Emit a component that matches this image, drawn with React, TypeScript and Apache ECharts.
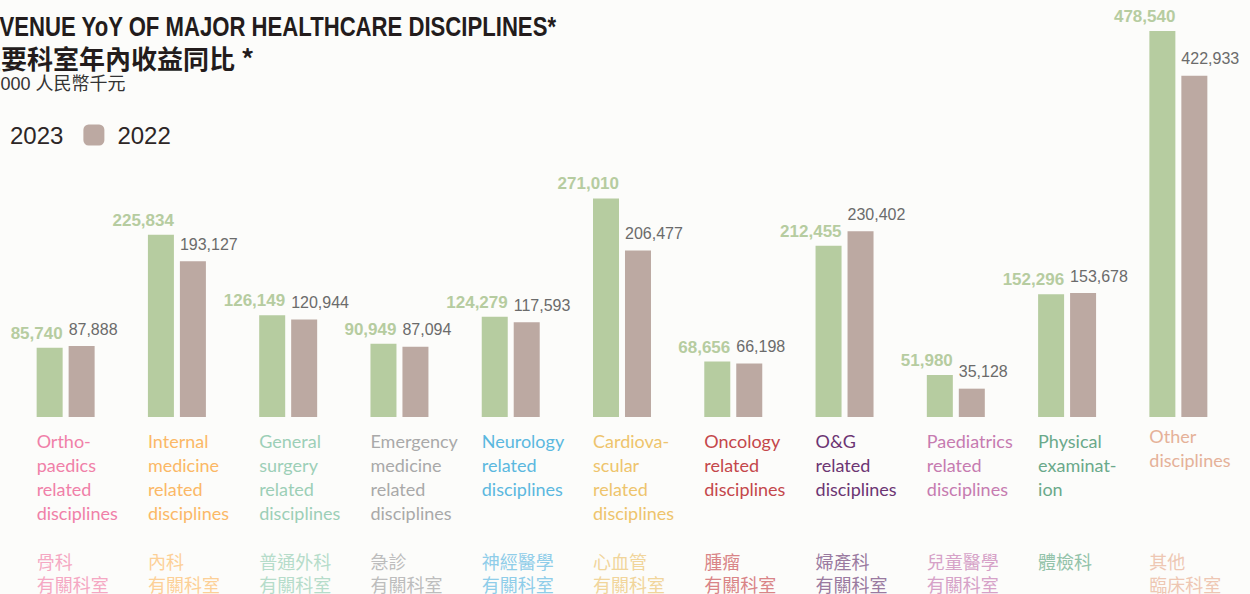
import React, { useEffect, useRef } from 'react';
import * as echarts from 'echarts';

const categories = ['Ortho', 'Internal', 'General', 'Emergency', 'Neurology', 'Cardio', 'Oncology', 'OG', 'Paediatrics', 'Physical', 'Other'];
const englishLabels = [
  'Ortho-\npaedics\nrelated\ndisciplines',
  'Internal\nmedicine\nrelated\ndisciplines',
  'General\nsurgery\nrelated\ndisciplines',
  'Emergency\nmedicine\nrelated\ndisciplines',
  'Neurology\nrelated\ndisciplines',
  'Cardiova-\nscular\nrelated\ndisciplines',
  'Oncology\nrelated\ndisciplines',
  'O&G\nrelated\ndisciplines',
  'Paediatrics\nrelated\ndisciplines',
  'Physical\nexaminat-\nion',
  'Other\ndisciplines',
];
const chineseLabels = [
  '骨科\n有關科室', '內科\n有關科室', '普通外科\n有關科室', '急診\n有關科室', '神經醫學\n有關科室',
  '心血管\n有關科室', '腫瘤\n有關科室', '婦產科\n有關科室', '兒童醫學\n有關科室', '體檢科', '其他\n臨床科室',
];
const values2023 = [85740, 225834, 126149, 90949, 124279, 271010, 68656, 212455, 51980, 152296, 478540];
const values2022 = [87888, 193127, 120944, 87094, 117593, 206477, 66198, 230402, 35128, 153678, 422933];
const englishColors = ['#f080a8', '#fbb866', '#9ccfb7', '#a9a9a9', '#5bb8df', '#eec46c', '#c4474b', '#6c3573', '#c67bb0', '#6aa98a', '#e5b198'];
const chineseColors = ['#f5a8c3', '#fcd097', '#b6dcca', '#bdbdbd', '#8fcde9', '#f1d59b', '#d98487', '#9a7aa0', '#d6a2c8', '#93c3aa', '#eec7b3'];

const GREEN = '#b6cca0';
const TAUPE = '#bca9a2';

export default function App() {
  const ref = useRef<HTMLDivElement>(null);
  useEffect(() => {
    const el = ref.current!;
    const chart = echarts.init(el, undefined, { renderer: 'svg' });
    chart.setOption({
      animation: false,
      backgroundColor: '#fcfcfa',
      grid: { left: 10, right: 16, top: 31, bottom: 177 },
      legend: {
        left: -29,
        top: 118,
        itemWidth: 21,
        itemHeight: 21,
        itemGap: 20,
        icon: 'roundRect',
        textStyle: { fontSize: 24, color: '#2d2626', fontFamily: 'Liberation Sans, Arial', padding: [0, 0, 0, 8] },
        data: ['2023', '2022'],
      },
      xAxis: {
        type: 'category',
        data: categories,
        axisLine: { show: false },
        axisTick: { show: false },
        axisLabel: { show: false },
      },
      yAxis: { type: 'value', min: 0, max: 478540, show: false, splitLine: { show: false } },
      series: [
        {
          name: '2023',
          type: 'bar',
          data: values2023,
          barWidth: 26,
          barGap: '23%',
          itemStyle: { color: GREEN },
          label: {
            show: true,
            position: 'top',
            distance: 6,
            align: 'right',
            offset: [13, 0],
            fontSize: 17,
            fontWeight: 'bold',
            fontFamily: 'Liberation Sans, Arial',
            color: GREEN,
            formatter: (p: any) => p.value.toLocaleString('en-US'),
          },
        },
        {
          name: '2022',
          type: 'bar',
          data: values2022,
          barWidth: 26,
          barGap: '23%',
          itemStyle: { color: TAUPE },
          label: {
            show: true,
            position: 'top',
            distance: 9,
            align: 'left',
            offset: [-13, 0],
            fontSize: 16,
            fontFamily: 'Liberation Sans, Arial',
            color: '#6b6b6b',
            formatter: (p: any) => p.value.toLocaleString('en-US'),
          },
        },
      ],
    });

    const graphics: any[] = [
      {
        type: 'text', x: 556, y: 27, scaleX: 0.82,
        style: { text: 'REVENUE YoY OF MAJOR HEALTHCARE DISCIPLINES*', align: 'right', verticalAlign: 'middle', fontSize: 27, fontWeight: 'bold', fontFamily: 'Liberation Sans, Arial', fill: '#231c1c' },
      },
      {
        type: 'text', x: -25, y: 57,
        style: { text: '主要科室年內收益同比 *', align: 'left', verticalAlign: 'middle', fontSize: 26, fontWeight: 'bold', fontFamily: 'Noto Sans CJK TC', fill: '#231c1c' },
      },
      {
        type: 'text', x: -43, y: 84,
        style: { text: "RMB'000 人民幣千元", align: 'left', verticalAlign: 'middle', fontSize: 18, fontFamily: 'Liberation Sans, Noto Sans CJK TC', fill: '#333333' },
      },
    ];
    categories.forEach((c, i) => {
      const cx = chart.convertToPixel({ xAxisIndex: 0 }, c) as number;
      const left = cx - 29;
      graphics.push({
        type: 'text', x: left, y: 429 + (i === 10 ? -5 : 0),
        style: { text: englishLabels[i], align: 'left', verticalAlign: 'top', fontSize: 18, lineHeight: 24, fontFamily: 'Lato', fill: englishColors[i] },
      });
      graphics.push({
        type: 'text', x: left, y: 549.5,
        style: { text: chineseLabels[i], align: 'left', verticalAlign: 'top', fontSize: 18, lineHeight: 23, fontFamily: 'Noto Sans CJK TC', fill: chineseColors[i] },
      });
    });
    chart.setOption({ graphic: graphics });
    return () => chart.dispose();
  }, []);
  return <div ref={ref} style={{ position: 'fixed', left: 0, top: 0, width: 1250, height: 594 }} />;
}
